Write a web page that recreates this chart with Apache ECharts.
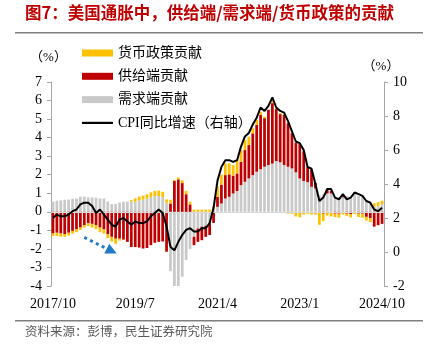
<!DOCTYPE html>
<html>
<head>
<meta charset="utf-8">
<script src="https://cdn.jsdelivr.net/npm/echarts@6/dist/echarts.min.js"></script>
<style>
html,body{margin:0;padding:0;background:#fff;}
#c{width:431px;height:362px;}
</style>
</head>
<body>
<div id="c"></div>
<script>
var months = ['2017/10','2017/11','2017/12','2018/1','2018/2','2018/3','2018/4','2018/5','2018/6','2018/7','2018/8','2018/9','2018/10','2018/11','2018/12',
'2019/1','2019/2','2019/3','2019/4','2019/5','2019/6','2019/7','2019/8','2019/9','2019/10','2019/11','2019/12',
'2020/1','2020/2','2020/3','2020/4','2020/5','2020/6','2020/7','2020/8','2020/9','2020/10','2020/11','2020/12',
'2021/1','2021/2','2021/3','2021/4','2021/5','2021/6','2021/7','2021/8','2021/9','2021/10','2021/11','2021/12',
'2022/1','2022/2','2022/3','2022/4','2022/5','2022/6','2022/7','2022/8','2022/9','2022/10','2022/11','2022/12',
'2023/1','2023/2','2023/3','2023/4','2023/5','2023/6','2023/7','2023/8','2023/9','2023/10','2023/11','2023/12',
'2024/1','2024/2','2024/3','2024/4','2024/5','2024/6','2024/7','2024/8','2024/9','2024/10'];

// 需求端贡献
var demand = [0.55,0.6,0.62,0.65,0.66,0.7,0.72,0.82,0.82,0.78,0.78,0.76,0.72,0.72,0.55,
0.42,0.42,0.5,0.55,0.55,0.55,0.55,0.62,0.65,0.72,0.8,0.85,
0.85,0.8,0.5,-3.2,-4.1,-4.05,-3.5,-2.6,-2.0,-1.35,-0.9,-0.8,
-0.75,-0.6,0.15,0.27,0.45,0.72,0.81,0.99,1.12,1.44,1.62,1.8,
1.98,2.16,2.3,2.43,2.52,2.6,2.74,2.67,2.52,2.43,2.34,2.13,
1.8,1.66,1.6,1.35,1.26,0.9,0.95,0.99,0.99,0.81,0.8,0.78,
0.85,0.72,0.99,0.85,0.8,0.63,0.55,0.27,0.3,0.4];

// 供给端贡献
var supply = [-1.17,-1.13,-1.17,-1.2,-1.13,-1.03,-0.95,-0.85,-0.72,-0.62,-0.65,-0.72,-0.85,-0.95,-1.2,
-1.35,-1.45,-1.45,-1.5,-1.62,-1.9,-1.9,-1.93,-1.98,-1.95,-1.8,-1.67,
-1.62,-1.6,-2.15,0.45,1.66,1.75,1.55,0.95,0.4,-0.45,-0.72,-0.73,
-0.6,-0.65,-0.6,0.55,1.0,1.26,1.21,0.96,0.95,1.26,1.71,1.8,
2.25,2.52,2.92,2.62,2.98,3.26,2.8,2.6,2.7,2.35,1.9,1.6,
1.85,1.6,0.8,0.95,0.3,-0.05,-0.1,0.25,0.15,-0.1,-0.1,0.1,
-0.1,-0.12,0.05,-0.1,-0.1,-0.27,-0.35,-0.8,-0.72,-0.65];

// 货币政策贡献
var monetary = [-0.13,-0.17,-0.17,-0.15,-0.15,-0.15,-0.15,-0.13,-0.13,-0.15,-0.2,-0.22,-0.25,-0.22,-0.22,
-0.25,-0.27,-0.1,0,0,0.08,0.18,0.2,0.22,0.22,0.25,0.28,
0.3,0.28,0.17,0.2,0.05,0.1,0.15,0.18,0.15,0.12,0.12,0.12,
0.12,0.12,0.15,0.55,0.55,0.62,0.6,0.57,0.73,0.63,0.54,0.45,
0.27,0.27,0.18,0.08,0.0,0.27,0.05,0.05,0.03,-0.1,-0.1,-0.25,
-0.3,-0.15,-0.1,-0.15,-0.15,-0.65,-0.4,-0.2,-0.25,-0.18,-0.22,-0.15,
-0.12,-0.18,-0.12,-0.18,-0.22,-0.2,-0.2,0.2,0.22,0.2];

// CPI同比增速（右轴）
var cpi = [2.0,2.2,2.1,2.1,2.2,2.4,2.5,2.8,2.9,2.9,2.7,2.3,2.5,2.2,1.9,
1.6,1.5,1.9,2.0,1.8,1.6,1.8,1.7,1.7,1.8,2.1,2.3,
2.5,2.3,1.5,0.3,0.1,0.6,1.0,1.3,1.4,1.2,1.2,1.4,
1.4,1.7,2.6,4.2,5.0,5.4,5.4,5.3,5.4,6.2,6.8,7.0,
7.5,7.9,8.5,8.3,8.6,9.1,8.5,8.3,8.2,7.7,7.1,6.5,
6.4,6.0,5.0,4.9,4.0,3.0,3.2,3.7,3.7,3.2,3.1,3.4,
3.1,3.2,3.5,3.4,3.3,3.0,2.9,2.5,2.4,2.6];

var leftTicks = {min:-4, max:7, interval:1};
var rightTicks = {min:-2, max:10, interval:2};

var serif = "'Liberation Serif','Times New Roman','Noto Sans CJK SC',serif";
var chart = echarts.init(document.getElementById('c'), null, {renderer:'canvas'});
var axisGray = '#A6A6A6';
var option = {
  animation:false,
  backgroundColor:'#fff',
  title:{
    text:'图7：美国通胀中，供给端/需求端/货币政策的贡献', left:25, top:4, padding:0,
    textStyle:{color:'#C00000', fontFamily:"'Noto Sans CJK SC'", fontWeight:'bold', fontSize:16.5}
  },
  grid:{left:51, right:47, top:82, bottom:76},
  legend:{
    orient:'vertical', left:82, top:46, padding:0, itemWidth:31, itemHeight:7, itemGap:9.3,
    symbolKeepAspect:true,
    textStyle:{fontFamily:serif, fontSize:14, color:'#000', lineHeight:14},
    data:[{name:'货币政策贡献',icon:'rect'},{name:'供给端贡献',icon:'rect'},{name:'需求端贡献',icon:'rect'},
          {name:'CPI同比增速（右轴）',icon:'path://M0,0H31V2.2H0Z'}]
  },
  xAxis:{
    type:'category', data:months, boundaryGap:true,
    axisLine:{show:false}, axisTick:{show:false},
    axisLabel:{interval:20, fontFamily:serif, fontSize:14, color:'#000', margin:11}
  },
  yAxis:[
    {type:'value', min:leftTicks.min, max:leftTicks.max, interval:leftTicks.interval,
     name:'（%）', nameLocation:'end', nameGap:18,
     nameTextStyle:{fontFamily:serif, fontSize:13, color:'#000', padding:[0,5,0,0]},
     axisLine:{show:true, lineStyle:{color:axisGray}}, axisTick:{show:true, inside:false, length:4, lineStyle:{color:axisGray}},
     splitLine:{show:false},
     axisLabel:{fontFamily:serif, fontSize:14, color:'#000', margin:9}},
    {type:'value', min:rightTicks.min, max:rightTicks.max, interval:rightTicks.interval, position:'right',
     name:'（%）', nameLocation:'end', nameGap:9,
     nameTextStyle:{fontFamily:serif, fontSize:13, color:'#000', padding:[0,6,0,0]},
     axisLine:{show:true, lineStyle:{color:axisGray}}, axisTick:{show:true, inside:false, length:4, lineStyle:{color:axisGray}},
     splitLine:{show:false},
     axisLabel:{fontFamily:serif, fontSize:14, color:'#000', margin:9}}
  ],
  series:[
    {name:'需求端贡献', type:'bar', stack:'s', data:demand, barWidth:'70%', itemStyle:{color:'#C9C9C9'},
     markLine:{silent:true, symbol:['none','none'], label:{show:false}, lineStyle:{color:'#D9D9D9', width:1, type:'solid'}, data:[{yAxis:0}]}},
    {name:'供给端贡献', type:'bar', stack:'s', data:supply, itemStyle:{color:'#C00000'},
     markLine:{silent:true, symbol:['none','triangle'], symbolSize:[11,11], label:{show:false},
       lineStyle:{color:'#1F78C8', width:3, type:[3,3.5]},
       data:[[{coord:[8,-1.38]},{coord:[15,-2.12]}]]}},
    {name:'货币政策贡献', type:'bar', stack:'s', data:monetary, itemStyle:{color:'#FFC000'}},
    {name:'CPI同比增速（右轴）', type:'line', yAxisIndex:1, data:cpi, symbol:'none', showSymbol:false,
     lineStyle:{color:'#000', width:2}, itemStyle:{color:'#000'}, z:5}
  ],
  graphic:[
    {type:'rect', shape:{x:15, y:32, width:408, height:1.5}, style:{fill:'#7F7F7F'}},
    {type:'rect', shape:{x:15, y:320, width:408, height:1.5}, style:{fill:'#7F7F7F'}},
    {type:'text', x:25, y:325, style:{text:'资料来源：彭博，民生证券研究院', fill:'#595959', font:"12.5px 'Noto Sans CJK SC'"}}
  ]
};
chart.setOption(option);
</script>
</body>
</html>
